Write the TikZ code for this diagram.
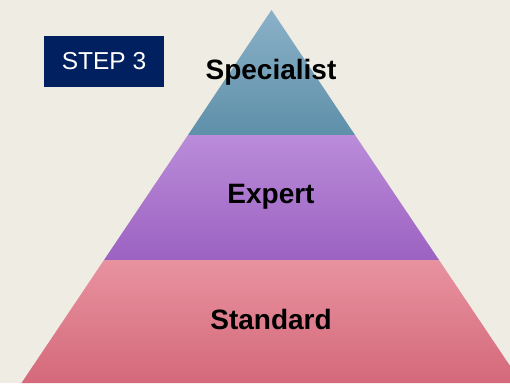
\documentclass[tikz,border=0pt]{standalone}
\usepackage{fontspec}
\setmainfont{Liberation Sans}
\definecolor{bg}{HTML}{EFECE3}
\definecolor{navy}{HTML}{002060}
\definecolor{spTop}{HTML}{8AB1C8}
\definecolor{spBot}{HTML}{5E90A9}
\definecolor{exTop}{HTML}{BA8CD9}
\definecolor{exBot}{HTML}{9C62C2}
\definecolor{stTop}{HTML}{E8929F}
\definecolor{stMid}{HTML}{E67A8D}
\definecolor{stBot}{HTML}{D4697B}
\tikzset{
  tierlabel/.style={anchor=base, inner sep=0pt, text=black, font=\fontsize{28}{28}\selectfont\bfseries},
  stepbox/.style={fill=navy, text=white, minimum width=120pt, minimum height=51pt, inner sep=0pt,
    font=\fontsize{24.5}{24.5}\selectfont}
}
\begin{document}
\begin{tikzpicture}[x=1pt,y=-1pt]
\useasboundingbox (0,0) rectangle (510,383);
\fill[bg] (0,0) rectangle (510,383);
\begin{scope}
\clip (0,0) rectangle (510,383);
\shade[top color=spTop, bottom color=spBot] (271.5,10) -- (355,135) -- (188,135) -- cycle;
\shade[top color=exTop, bottom color=exBot] (188,135) -- (355,135) -- (439,260) -- (104,260) -- cycle;
\shade[top color=stTop, middle color=stMid, bottom color=stBot] (104,260) -- (439,260) -- (521.5,383) -- (21.5,383) -- cycle;
\end{scope}
\node[stepbox] (step) at (104,61.5) {STEP 3};
\node[tierlabel] (spec) at (271,79) {Specialist};
\node[tierlabel] (expert) at (271,203.3) {Expert};
\node[tierlabel] (standard) at (271,329.3) {Standard};
\end{tikzpicture}
\end{document}
